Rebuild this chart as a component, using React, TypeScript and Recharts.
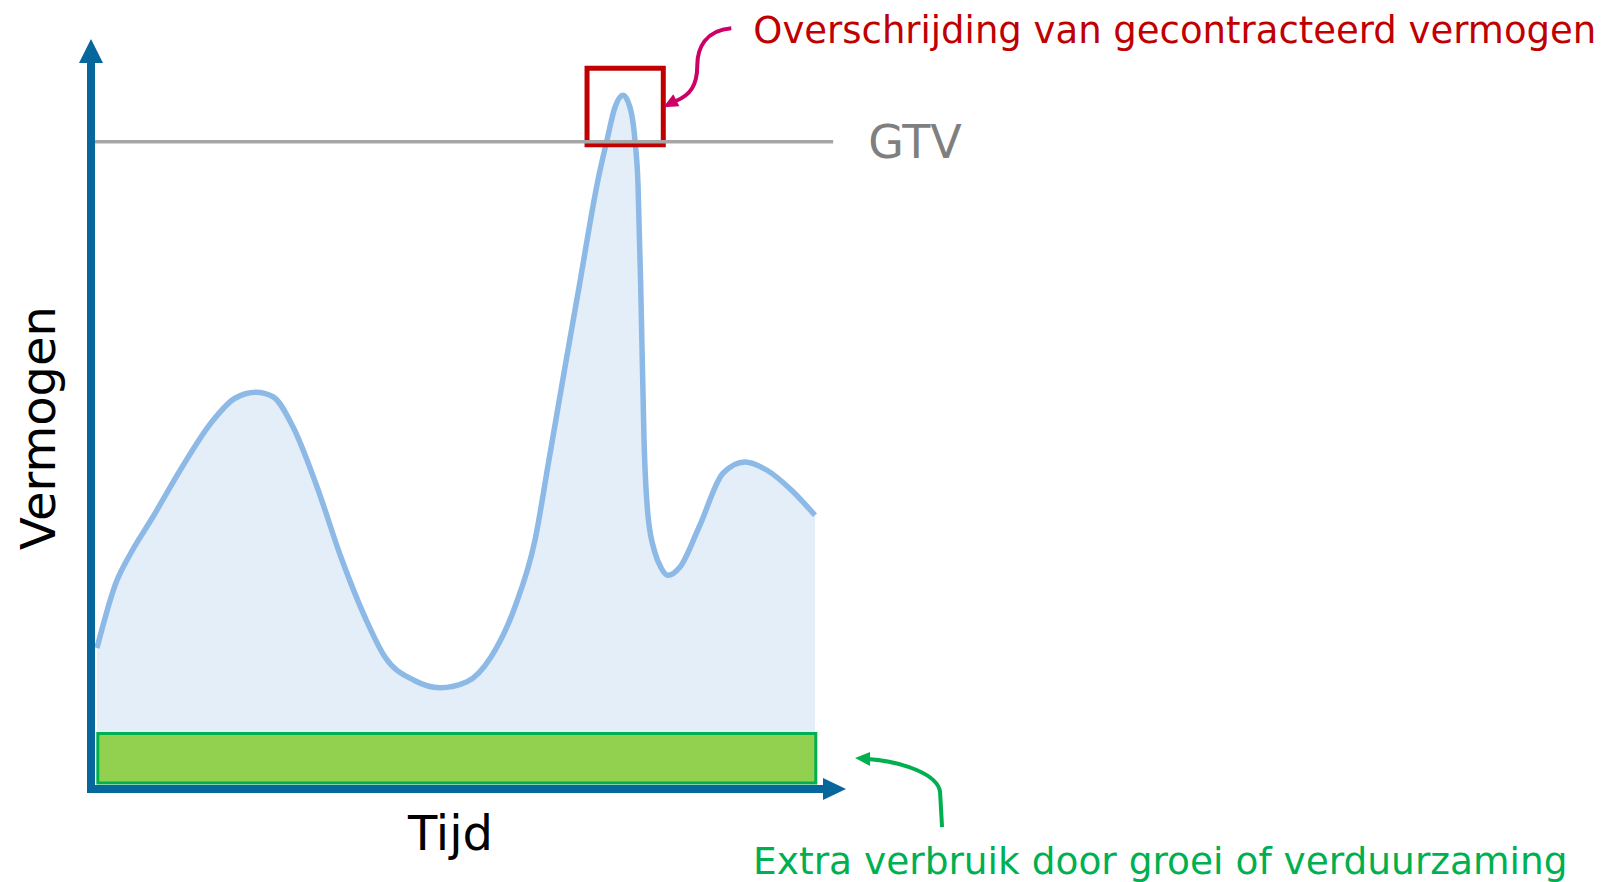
import React from 'react';
import { ComposedChart, Area, XAxis, YAxis, ReferenceLine, ReferenceArea, ReferenceDot } from 'recharts';

// time (0-100) and power (0-100)
const timePoints = [
  0.79, 3.31, 5.3, 8.21, 12.05, 15.89, 19.07, 21.85, 24.11, 26.75, 29.93, 33.11, 36.29, 38.94,
  42.78, 46.23, 49.8, 52.98, 56.16, 58.81, 60.66, 62.65, 64.64, 67.15, 68.34, 69.4, 70.46, 71.39,
  72.05, 72.45, 72.85, 73.25, 73.77, 74.7, 75.5, 76.42, 78.01, 80.53, 83.71, 86.62, 89.54, 92.72, 95.89,
];
const powerValues = [
  18.8, 27.5, 31.5, 36.3, 42.9, 48.8, 52.1, 52.9, 52.3, 48.3, 40.3, 30.9, 22.9, 17.6,
  14.5, 13.5, 14.3, 17.6, 24.3, 33.2, 43.9, 55.5, 66.9, 81.2, 86.5, 90.9, 92.5, 90.9,
  86.5, 80.7, 65.2, 46.5, 36.5, 31.5, 29.5, 28.5, 29.6, 34.9, 42.1, 43.6, 42.5, 39.9, 36.5,
];

const gtvLevel = 86.3;
const baseLoad = 7.5; // top of the extra-usage band
const extraBand = { x1: 0.9, x2: 96, y1: 0.8, y2: 7.4 };
const exceedBox = { x1: 65.7, x2: 75.8, y1: 85.9, y2: 96.1 };

const data = timePoints.map((t, i) => ({ t, v: powerValues[i] }));

const AXIS = '#05679c';
const FONT = '"DejaVu Sans", Verdana, sans-serif';

export default function App() {
  return (
    <div style={{ position: 'absolute', left: 0, top: 0, background: '#fff' }}>
      <ComposedChart width={1606} height={882} data={data} margin={{ top: 39, right: 760, bottom: 93, left: 91 }}>
        <XAxis type="number" dataKey="t" domain={[0, 100]} hide />
        <YAxis type="number" domain={[0, 100]} hide />

        <ReferenceLine
          segment={[{ x: 0, y: gtvLevel }, { x: 98.3, y: gtvLevel }]}
          stroke="#a6a6a6"
          strokeWidth={3.5}
          ifOverflow="visible"
          label={{ value: 'GTV', position: 'right', offset: 35, fill: '#7f7f7f', fontSize: 46, fontFamily: FONT }}
        />

        <Area
          type="monotone"
          dataKey="v"
          baseValue={baseLoad}
          stroke="#8cb9e6"
          strokeWidth={5.5}
          fill="#e4eef9"
          fillOpacity={1}
          dot={false}
          activeDot={false}
          isAnimationActive={false}
        />

        <ReferenceArea {...extraBand} fill="#92d050" fillOpacity={1} stroke="#00b050" strokeWidth={3} ifOverflow="visible" />
        <ReferenceArea {...exceedBox} fill="none" stroke="#c00000" strokeWidth={5} ifOverflow="visible" />

        {/* axes with arrow heads */}
        <ReferenceLine segment={[{ x: 0, y: -0.53 }, { x: 0, y: 96.9 }]} stroke={AXIS} strokeWidth={8} ifOverflow="visible" />
        <ReferenceLine segment={[{ x: -0.53, y: 0 }, { x: 97.35, y: 0 }]} stroke={AXIS} strokeWidth={8} ifOverflow="visible" />
        <ReferenceDot
          x={0}
          y={100}
          ifOverflow="visible"
          shape={(p: any) => <polygon points={`${p.cx},${p.cy} ${p.cx - 12},${p.cy + 24} ${p.cx + 12},${p.cy + 24}`} fill={AXIS} />}
        />
        <ReferenceDot
          x={100}
          y={0}
          ifOverflow="visible"
          shape={(p: any) => <polygon points={`${p.cx},${p.cy} ${p.cx - 23},${p.cy - 11} ${p.cx - 23},${p.cy + 11}`} fill={AXIS} />}
        />

        {/* axis titles */}
        <ReferenceDot
          x={50}
          y={0}
          ifOverflow="visible"
          shape={(p: any) => (
            <text x={p.cx - 18} y={p.cy + 61} textAnchor="middle" fontSize={48} fontFamily={FONT} fill="#000">Tijd</text>
          )}
        />
        <ReferenceDot
          x={0}
          y={50}
          ifOverflow="visible"
          shape={(p: any) => (
            <text
              transform={`translate(${p.cx - 36},${p.cy + 14}) rotate(-90)`}
              textAnchor="middle"
              fontSize={48}
              fontFamily={FONT}
              fill="#000"
            >
              Vermogen
            </text>
          )}
        />

        {/* annotation: exceeding contracted power */}
        <ReferenceDot
          x={exceedBox.x2}
          y={90.9}
          ifOverflow="visible"
          shape={(p: any) => {
            const { cx, cy } = p;
            return (
              <g>
                <path
                  d={`M${cx + 68},${cy - 79} C${cx + 42},${cy - 77} ${cx + 34},${cy - 59} ${cx + 34},${cy - 42} C${cx + 34},${cy - 22} ${cx + 27},${cy - 12} ${cx + 12},${cy - 6}`}
                  fill="none"
                  stroke="#cc0066"
                  strokeWidth={4}
                />
                <polygon points={`${cx},${cy} ${cx + 16},${cy - 1} ${cx + 10},${cy - 13}`} fill="#cc0066" />
                <text x={cx + 90} y={cy - 64} fontSize={37} fontFamily={FONT} fill="#c00000">
                  Overschrijding van gecontracteerd vermogen
                </text>
              </g>
            );
          }}
        />

        {/* annotation: extra usage */}
        <ReferenceDot
          x={101.2}
          y={4.13}
          ifOverflow="visible"
          shape={(p: any) => {
            const { cx, cy } = p;
            return (
              <g>
                <path
                  d={`M${cx + 87},${cy + 69} L${cx + 85},${cy + 34} C${cx + 83},${cy + 17} ${cx + 50},${cy + 4} ${cx + 13},${cy + 1}`}
                  fill="none"
                  stroke="#00b050"
                  strokeWidth={4}
                />
                <polygon points={`${cx},${cy} ${cx + 15},${cy - 6} ${cx + 15},${cy + 8}`} fill="#00b050" />
                <text x={cx - 102} y={cy + 116} fontSize={37.5} fontFamily={FONT} fill="#00b050">
                  Extra verbruik door groei of verduurzaming
                </text>
              </g>
            );
          }}
        />
      </ComposedChart>
    </div>
  );
}
